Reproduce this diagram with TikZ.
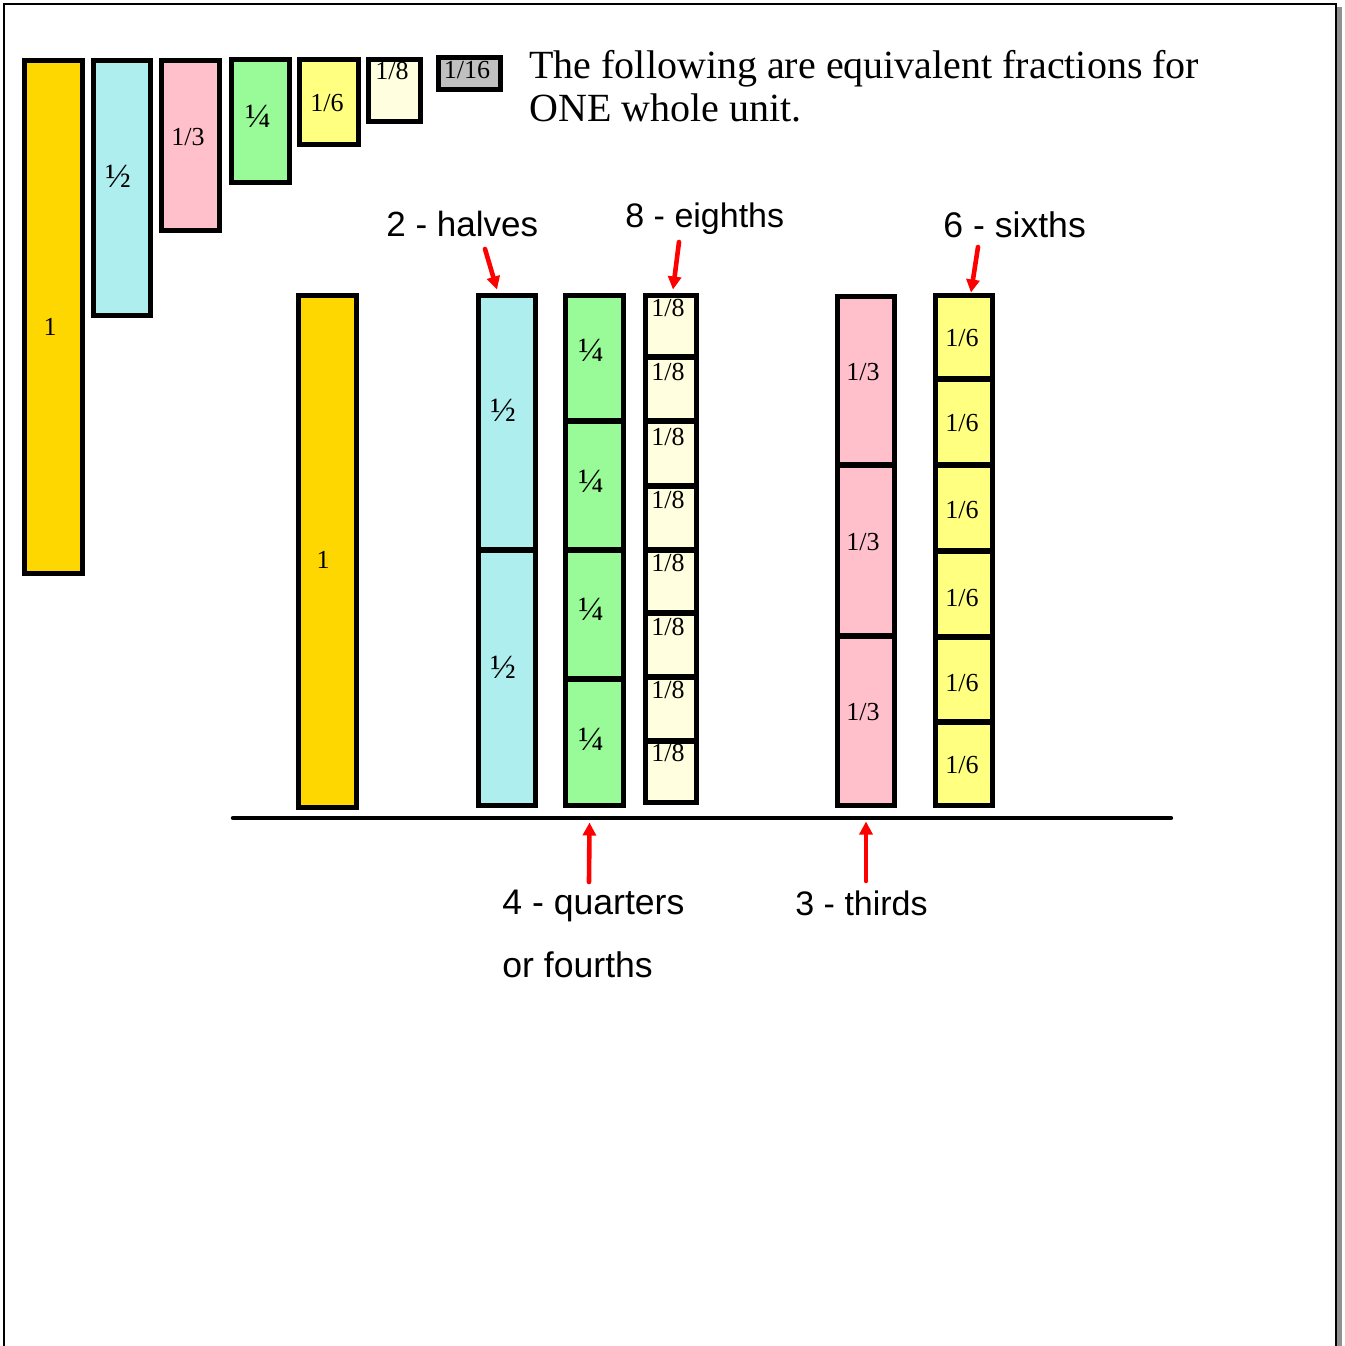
\documentclass[tikz,border=0pt]{standalone}
\usepackage{fontspec}
\setmainfont{Liberation Serif}
\newfontfamily\arialf{Liberation Sans}
\usetikzlibrary{arrows.meta}
\definecolor{cgold}{HTML}{FFD700}
\definecolor{ccyan}{HTML}{AFEEEE}
\definecolor{cpink}{HTML}{FFC0CB}
\definecolor{cgreen}{HTML}{98FB98}
\definecolor{cyel}{HTML}{FFFF80}
\definecolor{cival}{HTML}{FFFFE0}
\definecolor{cgray}{HTML}{C0C0C0}
\definecolor{cshadow}{HTML}{909090}
\tikzset{
  cell/.style={draw=black, line width=2.5pt, rectangle, inner sep=0pt, outer sep=0pt},
  lbl/.style={inner sep=0pt, font=\fontsize{13}{15}\selectfont},
  vlbl/.style={inner sep=0pt, font=\fontsize{17}{19}\selectfont},
  caption/.style={inner sep=0pt, anchor=base west, font=\arialf\fontsize{17.5}{20}\selectfont},
  titletext/.style={inner sep=0pt, anchor=base west, font=\fontsize{20}{22}\selectfont},
  redarrow/.style={draw=red, line width=2.3pt, line cap=round, -{Triangle[length=6.5pt,width=6.5pt]}}
}
% name, x1, y1, x2, y2 (outer edges, px), fill
\newcommand\rbox[6]{\node[cell, fill=#6, minimum width={(#4-#2-5)*0.5pt}, minimum height={(#5-#3-5)*0.5pt}] (#1) at ({(#2+#4)/2},{(#3+#5)/2}) {};}
\begin{document}
\begin{tikzpicture}[x=0.5pt, y=-0.5pt]
\useasboundingbox (0,0) rectangle (1345,1346);
% page frame
\fill[cshadow] (1337,7) rectangle (1342,1346);
\draw[line width=1pt] (4,1346) -- (4,4) -- (1336,4) -- (1336,1346);

% top row of pieces
\rbox{tone}{22}{58}{85}{576}{cgold}
\rbox{thalf}{91}{58}{153}{318}{ccyan}
\rbox{tthird}{159}{58}{222}{233}{cpink}
\rbox{tquarter}{229}{57}{292}{185}{cgreen}
\rbox{tsixth}{297}{57}{361}{147}{cyel}
\rbox{teighth}{366}{57}{423}{124}{cival}
\rbox{tsixteenth}{436}{55}{503}{92}{cgray}
\node[lbl] (ltone) at (50,327) {1};
\node[vlbl] (lthalf) at (118,176) {½};
\node[lbl] (ltthird) at (188,137) {1/3};
\node[vlbl] (ltquarter) at (258,116) {¼};
\node[lbl] (ltsixth) at (327,103) {1/6};
\node[lbl] (lteighth) at (392,71) {1/8};
\node[lbl] (ltsixteenth) at (467,70) {1/16};

% title
\node[titletext] (title1) at (529,78) {The following are equivalent fractions for};
\node[titletext] (title2) at (529,121) {ONE whole unit.};

% whole
\rbox{one}{296}{293}{359}{810}{cgold}
\node[lbl] (lone) at (323,560) {1};

% halves
\rbox{ha}{476}{293}{538}{552}{ccyan}
\rbox{hb}{476}{548}{538}{808}{ccyan}
\node[vlbl] (lha) at (503,410) {½};
\node[vlbl] (lhb) at (503,667) {½};

% quarters
\rbox{qa}{563}{293}{626}{423}{cgreen}
\rbox{qb}{563}{419}{626}{552}{cgreen}
\rbox{qc}{563}{548}{626}{681}{cgreen}
\rbox{qd}{563}{677}{626}{808}{cgreen}
\node[vlbl] (lqa) at (591,350) {¼};
\node[vlbl] (lqb) at (591,481) {¼};
\node[vlbl] (lqc) at (591,609) {¼};
\node[vlbl] (lqd) at (591,739) {¼};

% eighths
\rbox{ea}{643}{293}{699}{359}{cival}
\rbox{eb}{643}{355}{699}{423}{cival}
\rbox{ec}{643}{419}{699}{488}{cival}
\rbox{ed}{643}{484}{699}{552}{cival}
\rbox{ee}{643}{548}{699}{615}{cival}
\rbox{ef}{643}{611}{699}{679}{cival}
\rbox{eg}{643}{675}{699}{743}{cival}
\rbox{eh}{643}{739}{699}{805}{cival}
\node[lbl] (lea) at (668,308) {1/8};
\node[lbl] (leb) at (668,372) {1/8};
\node[lbl] (lec) at (668,437) {1/8};
\node[lbl] (led) at (668,500) {1/8};
\node[lbl] (lee) at (668,563) {1/8};
\node[lbl] (lef) at (668,627) {1/8};
\node[lbl] (leg) at (668,690) {1/8};
\node[lbl] (leh) at (668,753) {1/8};

% thirds
\rbox{ta}{835}{294}{897}{467}{cpink}
\rbox{tb}{835}{463}{897}{638}{cpink}
\rbox{tc}{835}{634}{897}{808}{cpink}
\node[lbl] (lta) at (863,372) {1/3};
\node[lbl] (ltb) at (863,542) {1/3};
\node[lbl] (ltc) at (863,712) {1/3};

% sixths
\rbox{sa}{933}{293}{995}{381}{cyel}
\rbox{sb}{933}{377}{995}{467}{cyel}
\rbox{sc}{933}{463}{995}{553}{cyel}
\rbox{sd}{933}{549}{995}{639}{cyel}
\rbox{se}{933}{635}{995}{724}{cyel}
\rbox{sf}{933}{720}{995}{808}{cyel}
\node[lbl] (lsa) at (962,338) {1/6};
\node[lbl] (lsb) at (962,423) {1/6};
\node[lbl] (lsc) at (962,510) {1/6};
\node[lbl] (lsd) at (962,598) {1/6};
\node[lbl] (lse) at (962,683) {1/6};
\node[lbl] (lsf) at (962,765) {1/6};

% base line
\draw[line width=2.2pt, line cap=round] (233,818) -- (1171,818);

% captions
\node[caption] (chalves) at (386,236) {2 - halves};
\node[caption, font=\arialf\fontsize{17}{20}\selectfont] (ceighths) at (625,227) {8 - eighths};
\node[caption, font=\arialf\fontsize{17.8}{20}\selectfont] (csixths) at (943,237) {6 - sixths};
\node[caption, font=\arialf\fontsize{17.8}{20}\selectfont] (cquarters) at (502,914) {4 - quarters};
\node[caption, font=\arialf\fontsize{17.8}{20}\selectfont] (cfourths) at (502,977) {or fourths};
\node[caption, font=\arialf\fontsize{17}{20}\selectfont] (cthirds) at (795,915) {3 - thirds};

% arrow tails
\coordinate (thalves) at (485,249);
\coordinate (teighths) at (679,242);
\coordinate (tsixths) at (978,247);
\coordinate (tquarters) at (589,882);
\coordinate (tthirds) at (866,881);

% arrows
\draw[redarrow] (thalves) -- ([shift={(-10,-6)}]ha.north);
\draw[redarrow] (teighths) -- ([shift={(2,-6)}]ea.north);
\draw[redarrow] (tsixths) -- ([shift={(7,-3)}]sa.north);
\draw[redarrow] (tquarters) -- ([shift={(-5,17)}]qd.south);
\draw[redarrow] (tthirds) -- ([shift={(0,16)}]tc.south);
\end{tikzpicture}
\end{document}
